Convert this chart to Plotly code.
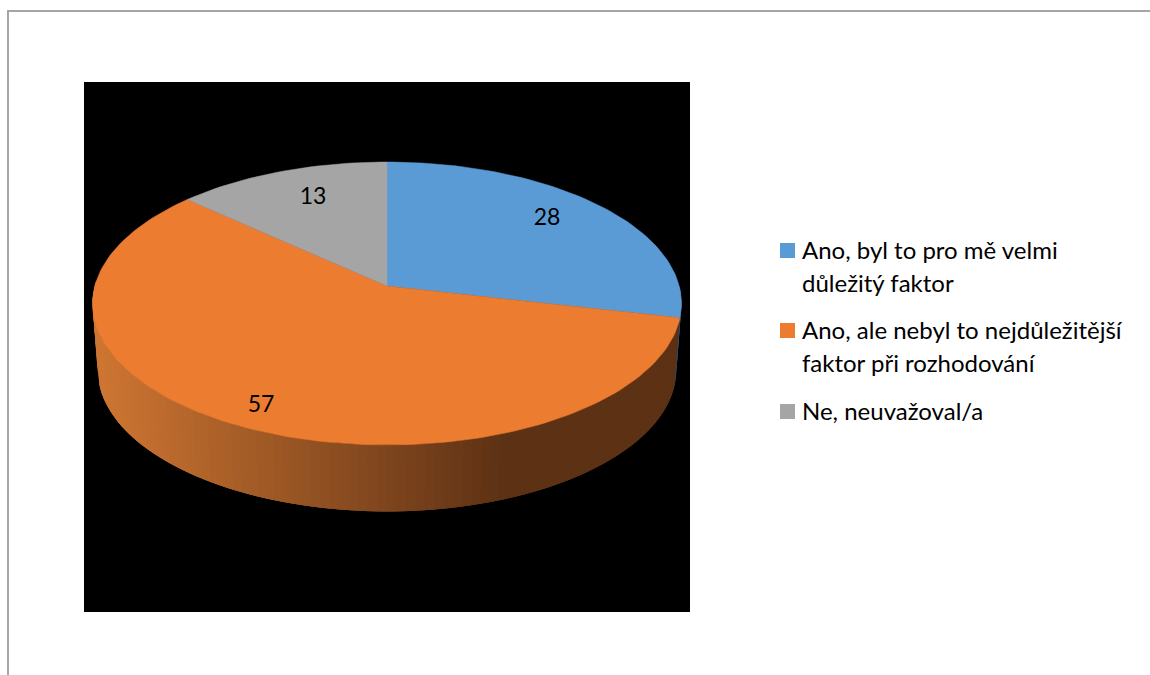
import math
import plotly.graph_objects as go

CATEGORIES = ["Ano, byl to pro mě velmi důležitý faktor",
              "Ano, ale nebyl to nejdůležitější faktor při rozhodování",
              "Ne, neuvažoval/a"]
VALUES = [28, 57, 13]
LEGEND_LINES = [["Ano, byl to pro mě velmi", "důležitý faktor"],
                ["Ano, ale nebyl to nejdůležitější", "faktor při rozhodování"],
                ["Ne, neuvažoval/a"]]
TOP_COLORS = ["#5B9BD5", "#EC7C30", "#A5A5A5"]

W, H = 1150, 675
PLOT = dict(l=84, r=690, t=82, b=612)
CX, CY_TOP, CY_BOT = 387, 286, 352.5
A_TOP, A_BOT, B = 292.2, 287.0, 139.3
K = 0.1237
LABEL_XY = [(547, 219), (261, 406), (313, 198)]
FONT = "Lato, Carlito, Calibri, sans-serif"
TEXT_COLOR = "#000000"


def project(theta, a, cy):
    x, y = math.sin(theta), math.cos(theta)
    d = 1 + K * y
    return CX + a * x / d, cy - B * y / d


def hex_mix(t):
    c0, c1 = (205, 117, 50), (93, 49, 20)
    t = max(0, min(1, t))
    return "rgb(%d,%d,%d)" % tuple(round(p + (q - p) * t) for p, q in zip(c0, c1))


fracs = [v / sum(VALUES) for v in VALUES]
edges = [0.0]
for f in fracs:
    edges.append(edges[-1] + f * 2 * math.pi)

fig = go.Figure()

# side wall: overlapping quads painted left to right in angle order, so no seams show
n_side = 110
start = math.radians(88)
end = math.radians(272)
step = (end - start) / n_side
for i in range(n_side):
    t0 = start + step * i
    t1 = min(end, t0 + step * 3)
    arc_t = [t0 + (t1 - t0) * j / 3 for j in range(4)]
    top_pts = [project(t, A_TOP, CY_TOP) for t in arc_t]
    bot_pts = [project(t, A_BOT, CY_BOT) for t in reversed(arc_t)]
    pts = top_pts + bot_pts + top_pts[:1]
    mid = t0 + step / 2
    xm = project(mid, A_TOP, CY_TOP)[0]
    if mid < edges[1]:
        col = "#2C4C6B"
    else:
        col = hex_mix((xm - 100) / (505 - 100))
    fig.add_trace(go.Scatter(x=[p[0] for p in pts], y=[p[1] for p in pts],
                             mode="lines", fill="toself", fillcolor=col,
                             line=dict(width=0), showlegend=False, hoverinfo="skip"))

# top face
for i, cat in enumerate(CATEGORIES):
    n = max(8, int(fracs[i] * 240))
    xs, ys = [CX], [CY_TOP]
    for j in range(n + 1):
        qx, qy = project(edges[i] + (edges[i + 1] - edges[i]) * j / n, A_TOP, CY_TOP)
        xs.append(qx)
        ys.append(qy)
    xs.append(CX)
    ys.append(CY_TOP)
    fig.add_trace(go.Scatter(x=xs, y=ys, mode="lines", fill="toself", fillcolor=TOP_COLORS[i],
                             line=dict(color=TOP_COLORS[i], width=0.5), name=cat,
                             showlegend=False, hoverinfo="name"))

# data labels
fig.add_trace(go.Scatter(x=[p[0] for p in LABEL_XY], y=[p[1] for p in LABEL_XY],
                         text=[str(v) for v in VALUES], mode="text", textposition="middle center",
                         textfont=dict(family=FONT, size=23, color=TEXT_COLOR),
                         showlegend=False, hoverinfo="skip"))

pw, ph = PLOT["r"] - PLOT["l"], PLOT["b"] - PLOT["t"]


def px(x):
    return (x - PLOT["l"]) / pw


def py(y):
    return (PLOT["b"] - y) / ph


shapes = [dict(type="line", xref="paper", yref="paper", x0=px(8), x1=px(W), y0=py(11), y1=py(11),
               line=dict(color="#A6A6A6", width=2)),
          dict(type="line", xref="paper", yref="paper", x0=px(8), x1=px(8), y0=py(10), y1=py(H),
               line=dict(color="#A6A6A6", width=2))]
annotations = []
swatch_tops = [243, 323, 404]
line_centers = [[249, 282], [329, 362], [410]]
for i, lines in enumerate(LEGEND_LINES):
    shapes.append(dict(type="rect", xref="paper", yref="paper", x0=px(780), x1=px(795),
                       y0=py(swatch_tops[i]), y1=py(swatch_tops[i] + 15),
                       fillcolor=TOP_COLORS[i], line=dict(width=0)))
    for txt, yc in zip(lines, line_centers[i]):
        annotations.append(dict(xref="paper", yref="paper", x=px(800), y=py(yc), text=txt,
                                xanchor="left", yanchor="middle", showarrow=False,
                                font=dict(family=FONT, size=24, color=TEXT_COLOR)))

fig.update_layout(
    width=W, height=H, autosize=False,
    margin=dict(l=PLOT["l"], r=W - PLOT["r"], t=PLOT["t"], b=H - PLOT["b"], pad=0),
    paper_bgcolor="white", plot_bgcolor="black", showlegend=False,
    xaxis=dict(range=[PLOT["l"], PLOT["r"]], visible=False, fixedrange=True),
    yaxis=dict(range=[PLOT["b"], PLOT["t"]], visible=False, fixedrange=True),
    shapes=shapes, annotations=annotations,
)

fig.write_html("out.html", config={"displayModeBar": False},
               post_script="document.body.style.margin='0';document.body.style.overflow='hidden';")
